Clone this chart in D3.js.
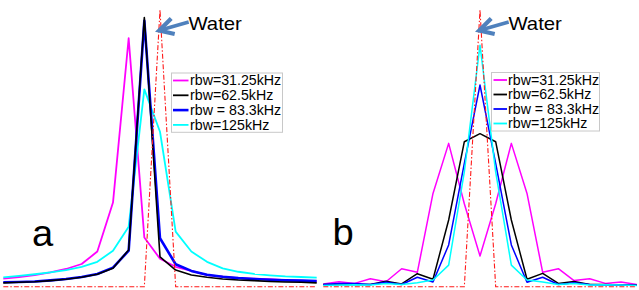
<!DOCTYPE html>
<html><head><meta charset="utf-8">
<script src="https://cdn.jsdelivr.net/npm/d3@7"></script>
<style>html,body{margin:0;padding:0;background:#fff;}svg{display:block;}</style>
</head><body>
<svg id="chart" width="639" height="290"></svg>
<script>
// frequency bin offsets (21 bins)
const bins = [-10,-9,-8,-7,-6,-5,-4,-3,-2,-1,0,1,2,3,4,5,6,7,8,9,10];
const seriesNames = ["rbw=31.25kHz", "rbw=62.5kHz", "rbw = 83.3kHz", "rbw=125kHz"];
const panelLabels = ["a", "b"];
const annotation = "Water";

// Panel a (normalized intensity, water peak = 100)
const aRbw31  = [2.9,3.5,4.2,5.2,6.4,8.2,12.7,30.4,89.8,17.8,10.1,7.2,5.7,4.2,3.6,3.1,2.9,2.7,2.4,2.2,2.0];
const aRbw62  = [1.4,1.6,1.8,2.2,2.7,3.4,4.5,6.7,13.3,97.3,10.8,6.0,4.2,3.4,2.8,2.4,2.2,1.9,1.7,1.6,1.4];
const aRbw83  = [1.6,1.7,1.9,2.3,2.8,3.5,4.6,6.9,13.0,96.1,17.5,8.1,5.7,4.3,3.6,3.1,2.8,2.5,2.3,2.2,2.0];
const aRbw125 = [3.4,3.9,4.5,5.2,6.0,7.2,9.0,13.0,21.7,71.3,56.0,19.9,12.7,9.0,6.6,5.4,4.6,4.1,3.7,3.5,3.3];
const aWater  = [0,0,0,0,0,0,0,0,0,0,100,0,0,0,0,0,0,0,0,0,0];

// Panel b
const bRbw31  = [1.0,1.8,1.2,2.9,1.8,6.5,5.2,33.7,51.8,30.0,11.1,30.0,51.8,33.7,5.2,6.5,2.2,2.9,1.2,1.7,0.8];
const bRbw62  = [0.8,0.8,0.8,0.8,2.0,1.0,4.7,2.7,24.1,52.4,55.3,52.4,24.1,2.7,4.8,1.2,1.9,0.8,0.8,0.6,0.6];
const bRbw83  = [0.8,1.2,1.2,0.8,1.6,0.8,3.4,1.7,15.1,44.6,72.9,44.6,15.1,1.6,3.4,0.8,1.4,0.8,0.6,0.6,0.5];
const bRbw125 = [0.4,0.6,0.7,0.6,1.2,0.8,1.4,2.4,7.8,41.5,87.3,41.5,7.8,2.4,1.7,0.8,1.2,0.6,0.7,0.6,0.4];
const bWater  = [0,0,0,0,0,0,0,0,0,0,100,0,0,0,0,0,0,0,0,0,0];

const colors = ["#ff00ff", "#000000", "#0000ff", "#00ffff"];
const FONT = "'Liberation Sans', Arial, Helvetica, sans-serif";

const svg = d3.select("#chart");
const y = d3.scaleLinear().domain([0, 100]).range([286.7, 10]);

const panels = [
  {ox: 0, label: panelLabels[0], series: [aRbw31, aRbw62, aRbw83, aRbw125], water: aWater,
   widths: [1.8, 1.6, 2.6, 1.8], order: [0, 3, 2, 1],
   legend: {x0: 171.5, y0: 73, w: 111, h: 59.3, lx0: 173, lx1: 188.5, tx: 190, rows: [80.5, 95.3, 110.1, 124.9]},
   labelPos: [32, 246]},
  {ox: 320, label: panelLabels[1], series: [bRbw31, bRbw62, bRbw83, bRbw125], water: bWater,
   widths: [1.5, 1.5, 1.5, 1.5], order: [0, 1, 2, 3],
   legend: {x0: 491.5, y0: 72.5, w: 108, h: 58.5, lx0: 493.5, lx1: 507, tx: 508, rows: [80, 94.5, 109, 123.5]},
   labelPos: [332.5, 245]}
];

panels.forEach(p => {
  const x = d3.scaleLinear().domain([-10, 10]).range([3.3 + p.ox, 316.7 + p.ox]);
  const line = d3.line().x((d, i) => x(bins[i])).y(d => y(d));
  const g = svg.append("g");

  p.order.forEach(k => {
    g.append("path").datum(p.series[k])
      .attr("d", line).attr("fill", "none")
      .attr("stroke", colors[k]).attr("stroke-width", p.widths[k])
      .attr("stroke-linejoin", "round");
  });
  // water reference (dash-dot)
  g.append("path").datum(p.water)
    .attr("d", line).attr("fill", "none")
    .attr("stroke", "#ff1a1a").attr("stroke-width", 1.1)
    .attr("stroke-dasharray", "5,2,1.5,2");

  // legend
  const L = p.legend;
  g.append("rect").attr("x", L.x0).attr("y", L.y0).attr("width", L.w).attr("height", L.h)
    .attr("fill", "#fff").attr("stroke", "#c8c8c8").attr("stroke-width", 1);
  seriesNames.forEach((name, k) => {
    g.append("line").attr("x1", L.lx0).attr("x2", L.lx1)
      .attr("y1", L.rows[k]).attr("y2", L.rows[k])
      .attr("stroke", colors[k]).attr("stroke-width", k === 2 && p.ox === 0 ? 2.6 : 1.8);
    g.append("text")
      .attr("transform", `translate(${L.tx},${L.rows[k] + 4.9}) scale(1.03,1)`)
      .attr("font-family", FONT).attr("font-size", 13.8).attr("fill", "#000")
      .text(name);
  });

  // panel label
  g.append("text")
    .attr("transform", `translate(${p.labelPos[0]},${p.labelPos[1]}) scale(1.06,1)`)
    .attr("font-family", FONT).attr("font-size", 36).attr("fill", "#000")
    .text(p.label);

  // arrow + Water
  const tip = [x(0) - 0.8, 30.5];
  g.append("path")
    .attr("d", `M${tip[0] + 29.5},${tip[1] - 8.5} L${tip[0] + 1.5},${tip[1] - 0.5}`)
    .attr("stroke", "#4f81bd").attr("stroke-width", 3.5).attr("fill", "none");
  g.append("path")
    .attr("d", `M${tip[0] + 12},${tip[1] - 12} L${tip[0]},${tip[1]} L${tip[0] + 15.5},${tip[1] + 3.5}`)
    .attr("stroke", "#4f81bd").attr("stroke-width", 4.2).attr("fill", "none")
    .attr("stroke-linejoin", "miter");
  g.append("text")
    .attr("x", tip[0] + 29.2).attr("y", 29.6)
    .attr("font-family", FONT).attr("font-size", 19).attr("fill", "#000")
    .attr("textLength", 53.5).attr("lengthAdjust", "spacingAndGlyphs")
    .text(annotation);
});
</script>
</body></html>
